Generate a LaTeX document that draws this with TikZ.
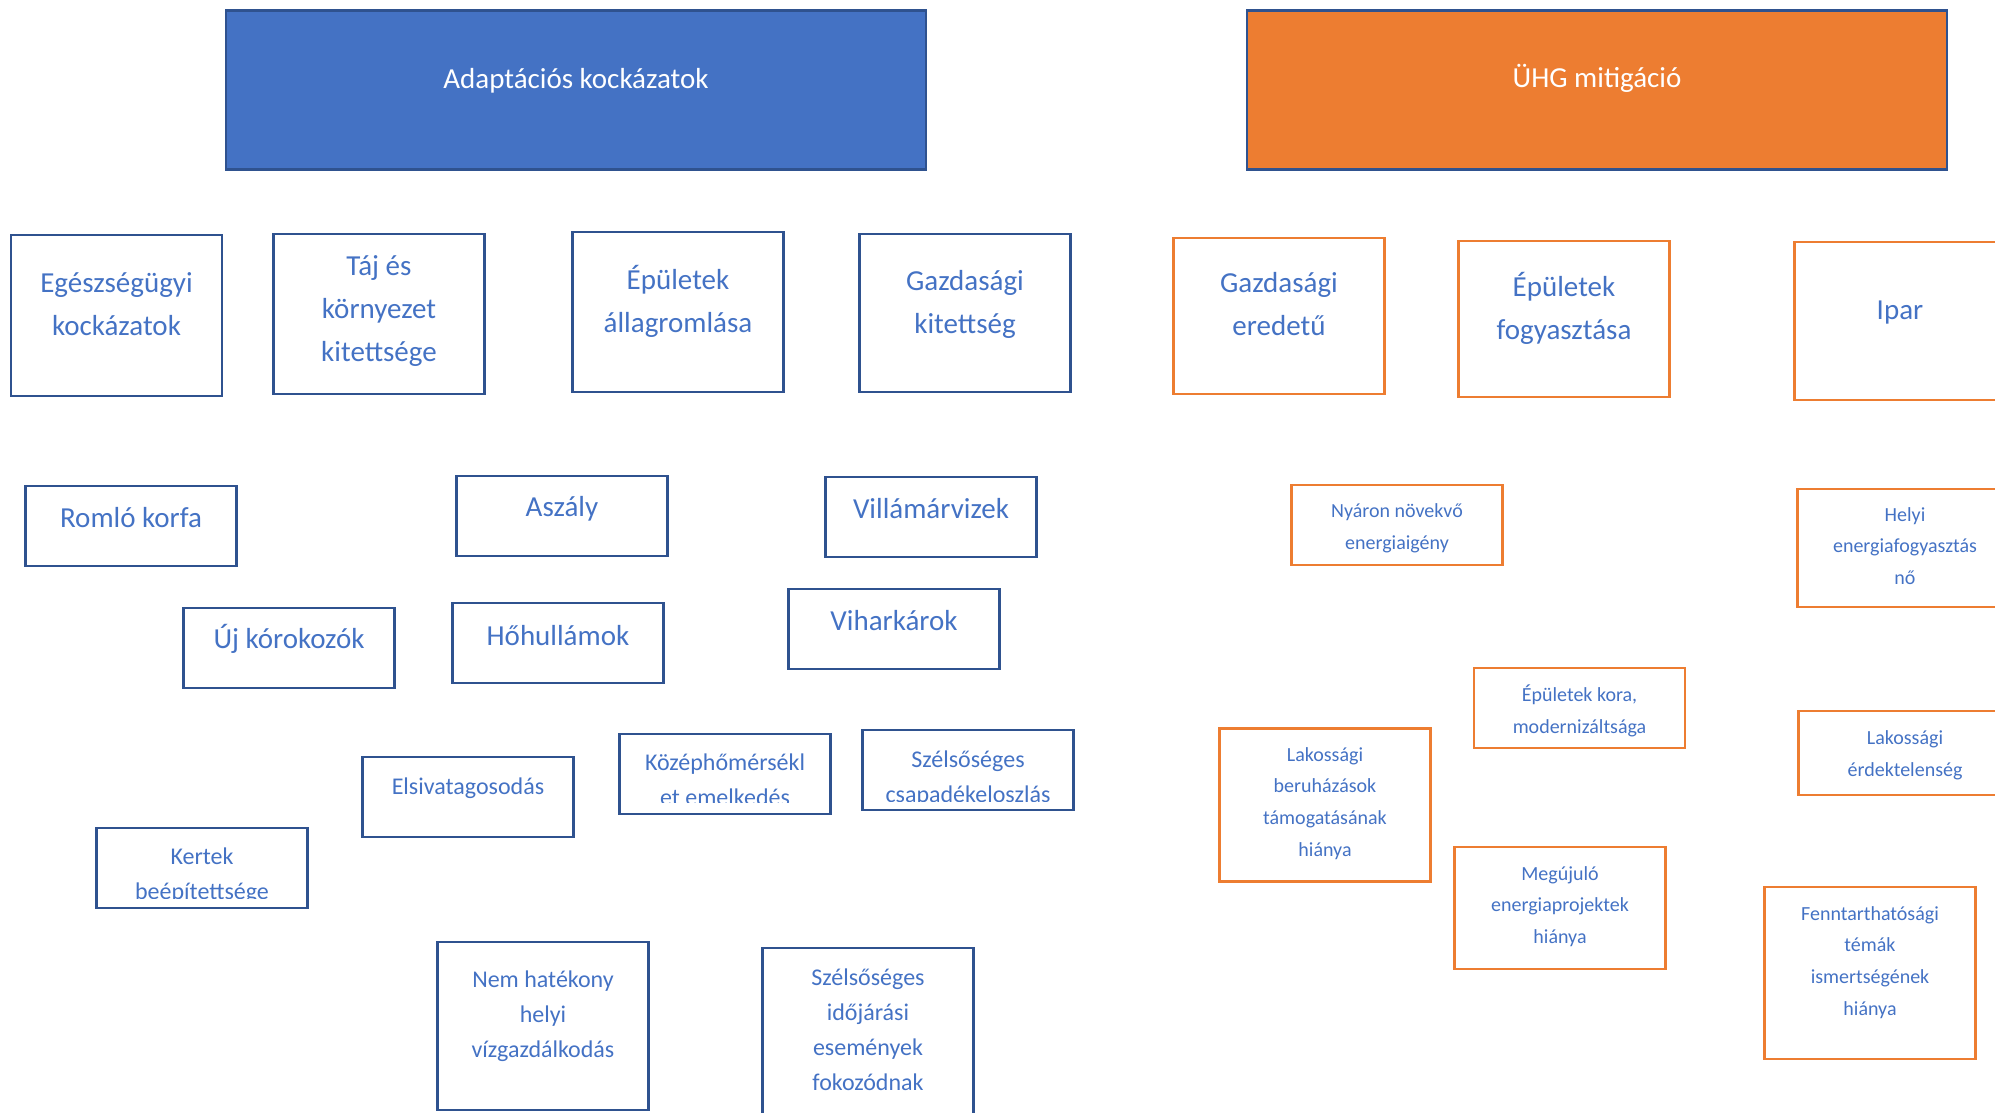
\documentclass[tikz,border=0pt]{standalone}
\usepackage{fontspec}
\setmainfont{Carlito}
\definecolor{accblue}{HTML}{4472C4}
\definecolor{darkblue}{HTML}{2F528F}
\definecolor{accorange}{HTML}{ED7D31}

\begin{document}
\begin{tikzpicture}[x=1pt,y=-1pt,
    headbox/.style={draw=darkblue, line width=2.8pt, minimum width=700pt, minimum height=159pt},
    bluebox/.style={draw=darkblue, line width=2.8pt, minimum width=211pt},
    orangebox/.style={draw=accorange, line width=2.8pt, minimum width=211pt},
    headtext/.style={text=white, font=\fontsize{29}{43}\selectfont},
    bigtext/.style={text=accblue, align=center, font=\fontsize{29}{43}\selectfont},
    midtext/.style={text=accblue, align=center, font=\fontsize{24}{35}\selectfont},
    smalltext/.style={text=accblue, align=center, font=\fontsize{20}{31.8}\selectfont}]
    \clip (0,0) rectangle (1995,1113);

    % headers
    \node[headbox, fill=accblue] (adapt) at (576,90) {};
    \node[headtext] (adapt-t) at (576,81) {Adaptációs kockázatok};
    \node[headbox, fill=accorange] (uhg) at (1597,90) {};
    \node[headtext] (uhg-t) at (1597,78.5) {ÜHG mitigáció};

    % adaptation, first row
    \node[bluebox, minimum height=161pt] (egesz) at (116.5,315.5) {};
    \node[bigtext] (egesz-t) at (116.5,304) {Egészségügyi\\kockázatok};
    \node[bluebox, minimum height=160pt] (taj) at (379,314) {};
    \node[bigtext] (taj-t) at (379,311) {Táj és\\környezet\\kitettsége};
    \node[bluebox, minimum height=160pt] (epulet) at (678,312) {};
    \node[bigtext] (epulet-t) at (678,301) {Épületek\\állagromlása};
    \node[bluebox, minimum height=158pt] (gazd) at (965,313) {};
    \node[bigtext] (gazd-t) at (965,304) {Gazdasági\\kitettség};

    % adaptation, risks
    \node[bluebox, minimum height=80pt] (korfa) at (131,526) {};
    \node[bigtext] (korfa-t) at (131,518) {Romló korfa};
    \node[bluebox, minimum height=80pt] (aszaly) at (562,516) {};
    \node[bigtext] (aszaly-t) at (562,509) {Aszály};
    \node[bluebox, minimum height=80pt] (villam) at (931,517) {};
    \node[bigtext] (villam-t) at (931,509) {Villámárvizek};
    \node[bluebox, minimum height=80pt] (ujkor) at (289,648) {};
    \node[bigtext] (ujkor-t) at (289,639) {Új kórokozók};
    \node[bluebox, minimum height=80pt] (hohull) at (558,643) {};
    \node[bigtext] (hohull-t) at (558,636) {Hőhullámok};
    \node[bluebox, minimum height=80pt] (vihar) at (894,629) {};
    \node[bigtext] (vihar-t) at (894,621) {Viharkárok};

    \node[bluebox, minimum height=80pt] (elsiv) at (468,797) {};
    \node[midtext] (elsiv-t) at (468,788.5) {Elsivatagosodás};
    \node[bluebox, minimum height=80pt] (kozep) at (725,774) {};
    \begin{scope}
        \clip ([yshift=13pt]kozep.south west) rectangle (kozep.north east);
        \node[midtext] (kozep-t) at (725,780) {Középhőmérsékl\\et emelkedés};
    \end{scope}
    \node[bluebox, minimum height=80pt] (szcsap) at (968,770) {};
    \begin{scope}
        \clip ([yshift=10pt]szcsap.south west) rectangle (szcsap.north east);
        \node[midtext] (szcsap-t) at (968,778.5) {Szélsőséges\\csapadékeloszlás};
    \end{scope}
    \node[bluebox, minimum height=80pt] (kertek) at (202,868) {};
    \begin{scope}
        \clip ([yshift=11pt]kertek.south west) rectangle (kertek.north east);
        \node[midtext] (kertek-t) at (202,875.5) {Kertek\\beépítettsége};
    \end{scope}
    \node[bluebox, minimum height=168pt] (nemhat) at (543,1026) {};
    \node[midtext] (nemhat-t) at (543,1016) {Nem hatékony\\helyi\\vízgazdálkodás};
    \node[bluebox, minimum height=172pt] (szido) at (868,1034) {};
    \node[midtext] (szido-t) at (868,1030) {Szélsőséges\\időjárási\\események\\fokozódnak};

    % mitigation, first row
    \node[orangebox, minimum height=156pt] (geredet) at (1279,316) {};
    \node[bigtext] (geredet-t) at (1279,304.5) {Gazdasági\\eredetű};
    \node[orangebox, minimum height=156pt] (efogy) at (1564,319) {};
    \node[bigtext] (efogy-t) at (1564,308) {Épületek\\fogyasztása};
    \node[orangebox, minimum height=158pt] (ipar) at (1900,321) {};
    \node[bigtext] (ipar-t) at (1900,313) {Ipar};

    % mitigation, barriers
    \node[orangebox, minimum height=80pt] (nyaron) at (1397,525) {};
    \node[smalltext] (nyaron-t) at (1397,528.5) {Nyáron növekvő\\energiaigény};
    \node[orangebox, minimum height=118pt] (helyi) at (1903,548) {};
    \node[smalltext] (helyi-t) at (1905,546) {Helyi\\energiafogyasztás\\nő};
    \node[orangebox, minimum height=80pt] (ekora) at (1579.5,708) {};
    \node[smalltext] (ekora-t) at (1579.5,710.5) {Épületek kora,\\modernizáltsága};
    \node[orangebox, minimum height=84pt] (lakerd) at (1904,753) {};
    \node[smalltext] (lakerd-t) at (1905,755) {Lakossági\\érdektelenség};
    \node[orangebox, minimum height=153pt] (lakber) at (1325,805) {};
    \node[smalltext] (lakber-t) at (1325,803.5) {Lakossági\\beruházások\\támogatásának\\hiánya};
    \node[orangebox, minimum height=122pt] (megujulo) at (1560,908) {};
    \node[smalltext] (megujulo-t) at (1560,906.5) {Megújuló\\energiaprojektek\\hiánya};
    \node[orangebox, minimum height=172pt] (fennt) at (1870,973) {};
    \node[smalltext] (fennt-t) at (1870,962.5) {Fenntarthatósági\\témák\\ismertségének\\hiánya};
\end{tikzpicture}
\end{document}
